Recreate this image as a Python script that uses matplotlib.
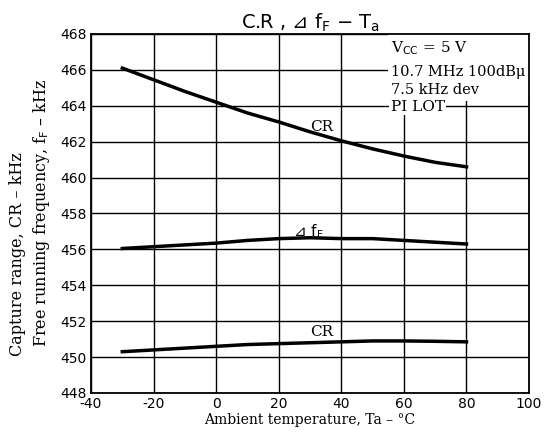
import matplotlib
matplotlib.use("Agg")
import matplotlib.pyplot as plt
from matplotlib.patches import Rectangle

temp = [-30, -20, -10, 0, 10, 20, 30, 40, 50, 60, 70, 80]
cr_top = [466.1, 465.45, 464.8, 464.2, 463.6, 463.1, 462.55, 462.05, 461.6, 461.2, 460.85, 460.6]
delta_f = [456.05, 456.15, 456.25, 456.35, 456.5, 456.6, 456.65, 456.6, 456.6, 456.5, 456.4, 456.3]
cr_bot = [450.3, 450.4, 450.5, 450.6, 450.7, 450.75, 450.8, 450.85, 450.9, 450.9, 450.88, 450.85]

xticks = [-40, -20, 0, 20, 40, 60, 80, 100]
yticks = [448, 450, 452, 454, 456, 458, 460, 462, 464, 466, 468]

fig = plt.figure(figsize=(5.46, 4.37), dpi=100)
ax = fig.add_axes([0.1667, 0.1007, 0.8023, 0.8215])
ax.set_xlim(-40, 100)
ax.set_ylim(448, 468)
ax.set_xticks(xticks)
ax.set_yticks(yticks)
ax.set_xticklabels([str(v) for v in xticks], fontsize=10, family="DejaVu Sans")
ax.set_yticklabels([str(v) for v in yticks], fontsize=10, family="DejaVu Sans")
ax.tick_params(length=0, pad=3)
ax.grid(True, color="black", linewidth=1.0)
ax.set_axisbelow(True)
for s in ax.spines.values():
    s.set_linewidth(1.3)

ax.plot(temp, cr_top, color="black", linewidth=2.5, zorder=3)
ax.plot(temp, delta_f, color="black", linewidth=2.5, zorder=3)
ax.plot(temp, cr_bot, color="black", linewidth=2.5, zorder=3)

# white area behind conditions text
ax.add_patch(Rectangle((55.0, 464.25), 45.0, 3.75, facecolor="white", edgecolor="none", zorder=2))
ax.add_patch(Rectangle((58.5, 463.55), 4.0, 0.8, facecolor="white", edgecolor="none", zorder=2))
serif = "DejaVu Serif"
ax.text(55.8, 467.2, r"V$_{\rm CC}$ = 5 V", fontsize=11, family=serif, zorder=4, va="center")
ax.text(55.8, 465.9, "10.7 MHz 100dB\u03bc", fontsize=10.5, family=serif, zorder=4, va="center")
ax.text(55.8, 464.9, "7.5 kHz dev", fontsize=10.5, family=serif, zorder=4, va="center")
ax.text(55.8, 463.95, "PI LOT", fontsize=11, family=serif, zorder=4, va="center",
        bbox=dict(facecolor="white", edgecolor="none", pad=1))

ax.text(30, 462.8, "CR", fontsize=11, family=serif, zorder=4, va="center")
ax.text(24.5, 457.0, "\u22bf f$_{\\rm F}$", fontsize=11, family=["DejaVu Sans", "Noto Sans CJK JP"], zorder=4, va="center")
ax.text(30, 451.4, "CR", fontsize=11, family=serif, zorder=4, va="center")

ax.set_title("C.R , \u22bf f$_{\\rm F}$ \u2212 T$_{\\rm a}$", fontsize=14,
             family=["DejaVu Sans", "Noto Sans CJK JP"], pad=4)
ax.set_xlabel("Ambient temperature, Ta \u2013 \u00b0C", fontsize=10, family=serif, labelpad=1)

fig.text(18 / 546, 1 - 254 / 437, "Capture range, CR \u2013 kHz", rotation=90, fontsize=11.5,
         family=serif, ha="center", va="center")
fig.text(42 / 546, 1 - 213 / 437, "Free running frequency, f$_{\\rm F}$ \u2013 kHz", rotation=90,
         fontsize=11.5, family=serif, ha="center", va="center")

fig.savefig("out.png", dpi=100)
